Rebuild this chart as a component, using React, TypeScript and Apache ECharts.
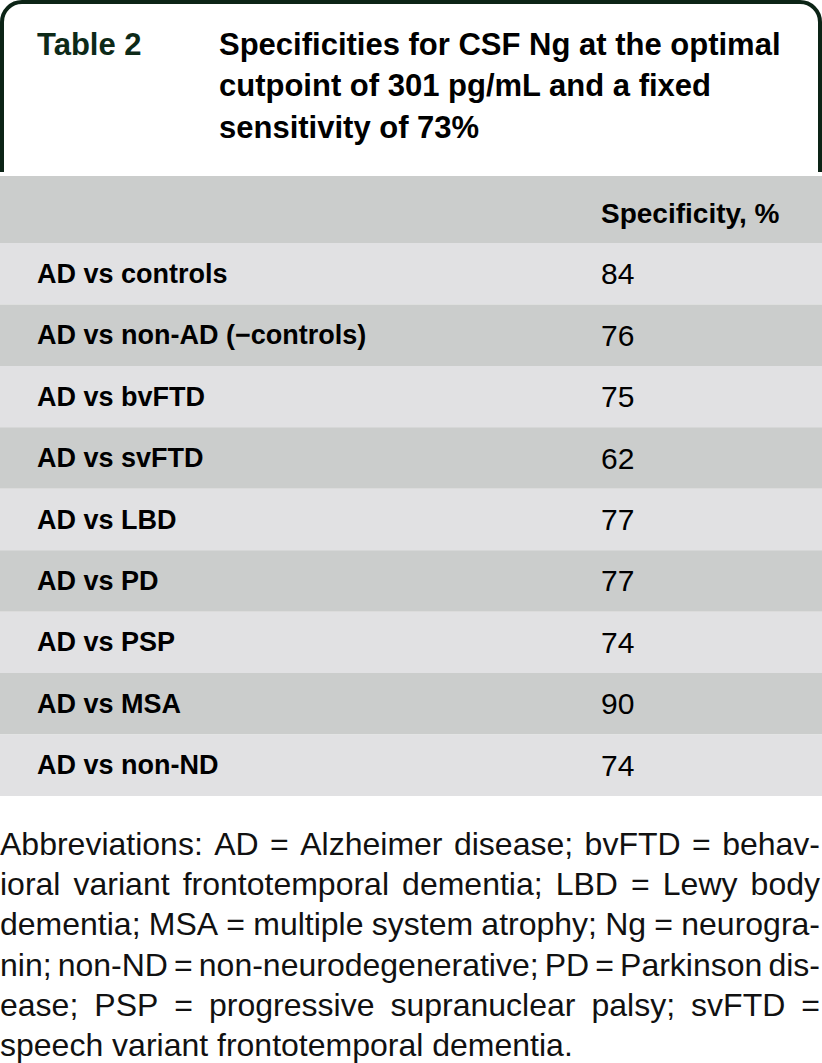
import React, { useEffect, useRef } from "react";
import * as echarts from "echarts";

const tableLabel = "Table 2";
const titleLines = [
  "Specificities for CSF Ng at the optimal",
  "cutpoint of 301 pg/mL and a fixed",
  "sensitivity of 73%",
];
const columnHeader = "Specificity, %";
const comparisons = [
  "AD vs controls",
  "AD vs non-AD (\u2212controls)",
  "AD vs bvFTD",
  "AD vs svFTD",
  "AD vs LBD",
  "AD vs PD",
  "AD vs PSP",
  "AD vs MSA",
  "AD vs non-ND",
];
const specificity = [84, 76, 75, 62, 77, 77, 74, 90, 74];
const footnoteLines = [
  "Abbreviations: AD = Alzheimer disease; bvFTD = behav-",
  "ioral variant frontotemporal dementia; LBD = Lewy body",
  "dementia; MSA = multiple system atrophy; Ng = neurogra-",
  "nin; non-ND = non-neurodegenerative; PD = Parkinson dis-",
  "ease; PSP = progressive supranuclear palsy; svFTD =",
  "speech variant frontotemporal dementia.",
];

const W = 822;
const H = 1063;
const FONT_FAMILY = "'Liberation Sans', Arial, Helvetica, sans-serif";
const GRAY = "#cbcdcc";
const LIGHT = "#e1e1e3";
const GREEN = "#0c2416";

function measure(text: string, font: string): number {
  const ctx = document.createElement("canvas").getContext("2d")!;
  ctx.font = font;
  return ctx.measureText(text).width;
}

export default function App() {
  const ref = useRef<HTMLDivElement>(null);
  useEffect(() => {
    if (!ref.current) return;
    const chart = echarts.init(ref.current, undefined, { renderer: "svg" });

    const footFont = `32px ${FONT_FAMILY}`;
    const footEls: any[] = [];
    const footTop = 844;
    const footStep = 40.2;
    const left = 0;
    const right = 820;
    footnoteLines.forEach((line, li) => {
      const y = footTop + li * footStep;
      const justify = li < footnoteLines.length - 1;
      const words = line.split(" ");
      if (!justify) {
        footEls.push({
          type: "text",
          style: { text: line, x: left, y, font: footFont, fill: "#111", verticalAlign: "middle" },
        });
        return;
      }
      const widths = words.map((w) => measure(w, footFont));
      const sum = widths.reduce((a, b) => a + b, 0);
      const gap = (right - left - sum) / (words.length - 1);
      let x = left;
      words.forEach((w, i) => {
        footEls.push({
          type: "text",
          style: { text: w, x, y, font: footFont, fill: "#111", verticalAlign: "middle" },
        });
        x += widths[i] + gap;
      });
    });

    const titleFont = `bold 31px ${FONT_FAMILY}`;
    const titleEls = titleLines.map((t, i) => ({
      type: "text",
      z: 5,
      style: { text: t, x: 219, y: 44 + i * 41.5, font: titleFont, fill: "#000", verticalAlign: "middle" },
    }));

    chart.setOption({
      animation: false,
      backgroundColor: "#fff",
      grid: { left: 0, right: 0, top: 243, height: 553, containLabel: false },
      xAxis: { type: "value", min: 0, max: W, show: false },
      yAxis: { type: "category", data: comparisons, inverse: true, show: false },
      graphic: [
        {
          type: "rect",
          z: 1,
          shape: { x: 2, y: 2, width: 818, height: 230, r: [20, 20, 0, 0] },
          style: { fill: "#fff", stroke: GREEN, lineWidth: 4 },
        },
        {
          type: "rect",
          z: 2,
          shape: { x: 0, y: 172, width: W, height: 4 },
          style: { fill: "#fff" },
        },
        {
          type: "rect",
          z: 2,
          shape: { x: 0, y: 176, width: W, height: 67 },
          style: { fill: GRAY },
        },
        {
          type: "text",
          z: 5,
          style: { text: tableLabel, x: 37, y: 44, font: titleFont, fill: "#0d2a18", verticalAlign: "middle" },
        },
        ...titleEls,
        {
          type: "text",
          z: 5,
          style: { text: columnHeader, x: 601, y: 213, font: `bold 28px ${FONT_FAMILY}`, fill: "#000", verticalAlign: "middle" },
        },
        ...footEls,
      ],
      series: [
        {
          type: "custom",
          coordinateSystem: "cartesian2d",
          data: comparisons.map((c, i) => [0, i, specificity[i]]),
          encode: { x: 0, y: 1 },
          renderItem: (params: any, api: any) => {
            const idx = api.value(1);
            const pt = api.coord([0, idx]);
            const h = api.size([0, 1])[1];
            const cs = params.coordSys;
            const cy = pt[1];
            return {
              type: "group",
              children: [
                {
                  type: "rect",
                  shape: { x: cs.x, y: cy - h / 2, width: cs.width, height: h },
                  style: { fill: idx % 2 === 0 ? LIGHT : GRAY },
                },
                {
                  type: "text",
                  style: {
                    text: comparisons[idx],
                    x: 37,
                    y: cy,
                    font: `bold 27px ${FONT_FAMILY}`,
                    fill: "#000",
                    verticalAlign: "middle",
                  },
                },
                {
                  type: "text",
                  style: {
                    text: String(api.value(2)),
                    x: 601,
                    y: cy,
                    font: `30px ${FONT_FAMILY}`,
                    fill: "#000",
                    verticalAlign: "middle",
                  },
                },
              ],
            };
          },
        },
      ],
    });
    return () => chart.dispose();
  }, []);
  return (
    <div
      ref={ref}
      style={{ position: "absolute", left: 0, top: 0, width: W, height: H }}
    />
  );
}
